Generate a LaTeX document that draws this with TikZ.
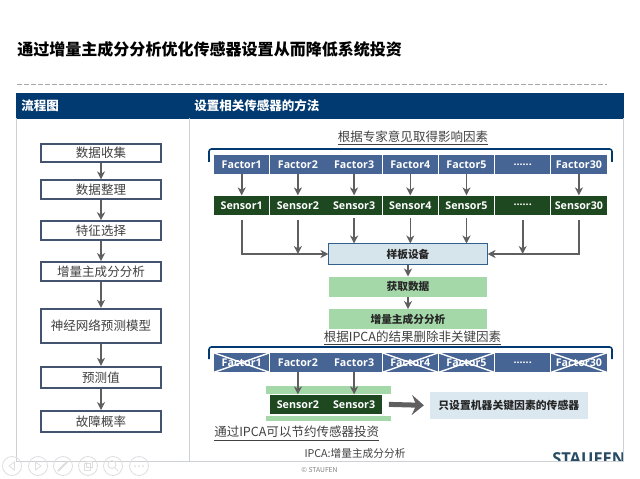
\documentclass[tikz,border=0pt]{standalone}
\usepackage{fontspec}
\setmainfont{Noto Sans CJK SC}
\newfontfamily\cellfont{Open Sans}
\usetikzlibrary{positioning,arrows.meta,calc}
\definecolor{HeadBlue}{RGB}{0,58,112}
\definecolor{FlowEdge}{RGB}{68,84,112}
\definecolor{FactorBlue}{RGB}{70,100,148}
\definecolor{SensorGreen}{RGB}{30,72,32}
\definecolor{StepGreen}{RGB}{165,216,168}
\definecolor{PlateBlue}{RGB}{214,228,236}
\definecolor{PanelLine}{RGB}{205,208,212}
\definecolor{ArrowGray}{RGB}{95,95,95}
\definecolor{LogoBlue}{RGB}{40,76,100}
\newcommand{\gaplabel}{......}

\begin{document}
\begin{tikzpicture}[
    x=0.025cm, y=-0.025cm,
    node distance=0.4cm,
    flowbox/.style={rectangle, draw=FlowEdge, line width=0.05cm, fill=white, inner sep=0pt,
        minimum width=3.02cm, minimum height=0.47cm, font=\fontsize{8.9}{11}\selectfont, text=black!75},
    factor/.style={rectangle, fill=FactorBlue, inner sep=0pt, minimum width=1.385cm, minimum height=0.475cm,
        font=\cellfont\bfseries\fontsize{7.6}{9}\selectfont, text=white},
    sensor/.style={factor, fill=SensorGreen},
    plate/.style={rectangle, inner sep=0pt, minimum width=3.95cm, minimum height=0.5cm,
        font=\bfseries\fontsize{7.6}{9}\selectfont, text=black!85},
    greenbar/.style={rectangle, fill=StepGreen, inner sep=0pt},
    note/.style={inner sep=0pt, font=\fontsize{8.9}{11}\selectfont, text=black!75},
    headtext/.style={inner sep=0pt, anchor=west, text=white, font=\bfseries\fontsize{8.9}{11}\selectfont},
    arrow/.style={-{Stealth[length=0.2cm,width=0.2cm,inset=0.06cm]}, ArrowGray, line width=0.04cm},
    bracket/.style={HeadBlue, line width=0.04cm, rounded corners=0.06cm},
    crossline/.style={white, line width=0.035cm}
]
\useasboundingbox (0,0) rectangle (640,479);

% title and header
\node[inner sep=0pt, anchor=west, font=\bfseries\fontsize{11.4}{14}\selectfont] (title) at (17,49) {通过增量主成分分析优化传感器设置从而降低系统投资};
\draw[gray!70, line width=0.02cm, dash pattern=on 0.115cm off 0.06cm] (17,84) -- (607,84);
\node[rectangle, fill=HeadBlue, anchor=north west, inner sep=0pt, minimum width=15.2cm, minimum height=0.65cm] (head) at (16,92.5) {};
\node[headtext] (headl) at (21,105.5) {流程图};
\node[headtext] (headr) at (194,105.5) {设置相关传感器的方法};

% logo is cut off by the panel edge
\node[inner sep=0pt, anchor=west, font=\cellfont\bfseries\fontsize{11.7}{14}\selectfont, text=LogoBlue] (logo) at (552,459) {STAUFEN.};
\fill[white] (540,461) rectangle (640,470);
\draw[PanelLine, line width=0.025cm] (16.5,118) -- (16.5,461) -- (623,461) -- (623,118);
\draw[PanelLine, line width=0.025cm] (189.5,118) -- (189.5,461);

% flow chart on the left
\node[flowbox] (collect) at (101,153) {数据收集};
\node[flowbox, below=0.4cm of collect] (tidy) {数据整理};
\node[flowbox, below=0.5cm of tidy] (choose) {特征选择};
\node[flowbox, below=0.5cm of choose] (ipca) {增量主成分分析};
\node[flowbox, below=0.65cm of ipca, minimum height=0.85cm] (model) {神经网络预测模型};
\node[flowbox, below=0.55cm of model, minimum height=0.53cm] (pred) {预测值};
\node[flowbox, below=0.525cm of pred, minimum height=0.53cm] (fail) {故障概率};
\foreach \a/\b in {collect/tidy, tidy/choose, choose/ipca, ipca/model, model/pred, pred/fail}
    \draw[arrow] (\a) -- (\b);

% upper rows
\node[note] (expert) at (413,138) {\underline{根据专家意见取得影响因素}};
\draw[bracket] (209,162) -- (209,149) -- (612,149) -- (612,162);
\foreach \lab [count=\i] in {Factor1,Factor2,Factor3,Factor4,Factor5,\gaplabel,Factor30}
    \node[factor] (f\i) at ({241.7+(\i-1)*56.2},164.5) {\lab};
\foreach \lab [count=\i] in {Sensor1,Sensor2,Sensor3,Sensor4,Sensor5,\gaplabel,Sensor30}
    \node[sensor] (s\i) at ({241.7+(\i-1)*56.2},205.2) {\lab};
\foreach \i in {1,2,3,4,5,7}
    \draw[arrow] (f\i) -- (s\i);

% middle steps
\node[plate, draw=HeadBlue!80, fill=PlateBlue, line width=0.025cm] (sample) at (408,254) {样板设备};
\node[plate, fill=StepGreen, below=0.3cm of sample] (acquire) {获取数据};
\node[plate, fill=StepGreen, below=0.3cm of acquire] (analyse) {增量主成分分析};
\draw[arrow, shorten <=0.13cm] (s1.south) |- (sample.west);
\draw[arrow, shorten <=0.13cm] (s7.south) |- (sample.east);
\draw[arrow, shorten <=0.13cm] (s2.south) -- (s2.south |- sample.west);
\draw[arrow, shorten <=0.13cm] (s6.south) -- (s6.south |- sample.east);
\foreach \i in {3,4,5}
    \draw[arrow, shorten <=0.07cm] (s\i.south) -- (s\i.south |- sample.north);
\draw[arrow] (sample) -- (acquire);
\draw[arrow] (acquire) -- (analyse);

% lower rows
\node[note] (remove) at (412.5,338) {\underline{根据IPCA的结果删除非关键因素}};
\draw[bracket] (209,359) -- (209,347) -- (612,347) -- (612,359);
\foreach \lab [count=\i] in {Factor1,Factor2,Factor3,Factor4,Factor5,\gaplabel,Factor30}
    \node[factor] (g\i) at ({241.7+(\i-1)*56.2},362.6) {\lab};
\foreach \i in {1,4,5,7} {
    \draw[crossline] (g\i.north west) -- (g\i.south east);
    \draw[crossline] (g\i.south west) -- (g\i.north east);
}
\node[greenbar, minimum width=3.125cm, minimum height=0.19cm] (bartop) at (328.5,390.3) {};
\node[greenbar, minimum width=3.125cm, minimum height=0.125cm] (barbot) at (328.5,418.5) {};
\node[sensor] (t2) at (g2 |- 0,404.2) {Sensor2};
\node[sensor] (t3) at (g3 |- 0,404.2) {Sensor3};
\draw[arrow] (g2) -- (t2);
\draw[arrow] (g3) -- (t3);
\node[rectangle, fill=PlateBlue!85, inner sep=0pt, minimum width=3.95cm, minimum height=0.675cm,
    font=\bfseries\fontsize{7.7}{10}\selectfont, text=black!85] (only) at (508.8,405.5) {只设置机器关键因素的传感器};
\draw[-{Stealth[length=0.3cm,width=0.5cm,inset=0.11cm]}, ArrowGray, line width=0.125cm, shorten <=0.17cm, shorten >=0.14cm] (t3.east) -- (only.west);

% notes at the bottom
\node[note, anchor=west] (saving) at (214,433.5) {\underline{通过IPCA可以节约传感器投资}};
\node[note, font=\fontsize{7.6}{9}\selectfont] (legend) at (355,453.5) {IPCA:增量主成分分析};
\node[inner sep=0pt, font=\fontsize{4.8}{6}\selectfont, text=gray] (copy) at (319.5,470) {© STAUFEN};

% player buttons
\tikzset{btn/.style={black!13, line width=0.02cm}}
\foreach \bx in {12,38,63,88,113,139}
    \draw[btn] (\bx,466) circle (9.5);
\draw[btn] (14.5,462) -- (9,466) -- (14.5,470) -- cycle;
\draw[btn] (35.5,462) -- (41,466) -- (35.5,470) -- cycle;
\draw[btn, line width=0.05cm] (58,471) -- (68,461);
\draw[btn] (84,463) rectangle (90,470) (86,461) rectangle (92,467);
\draw[btn] (112,464.5) circle (4) (115,467.5) -- (118,471);
\foreach \bx in {135,139,143}
    \fill[black!13] (\bx,466) circle (1);
\end{tikzpicture}
\end{document}
